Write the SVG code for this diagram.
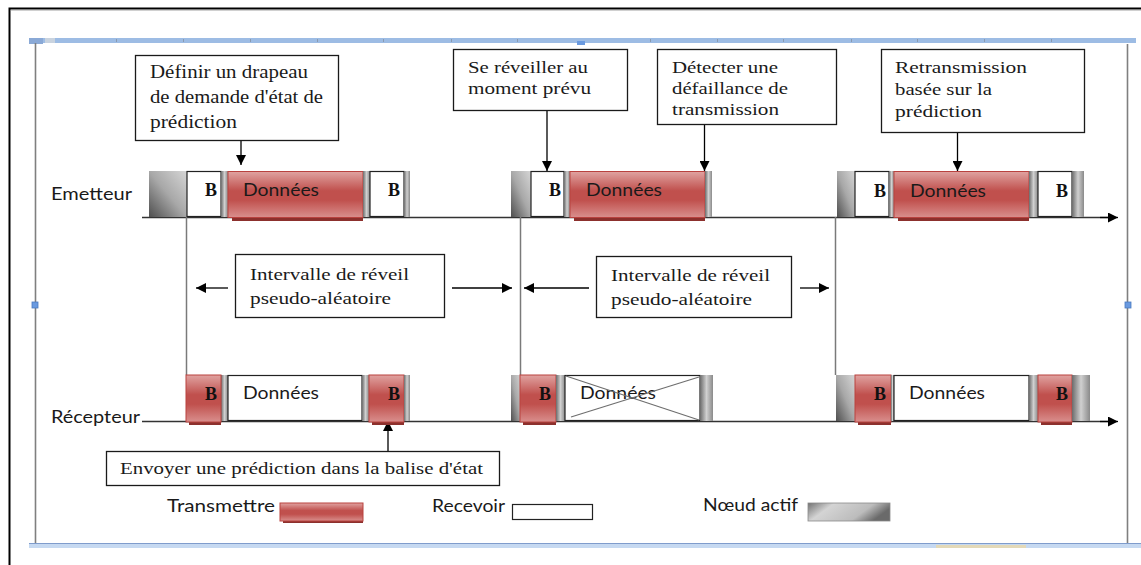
<svg xmlns="http://www.w3.org/2000/svg" width="1141" height="565" viewBox="0 0 1141 565">
  <defs>
    <style>
      .serif { font-family: "Liberation Serif", "Times New Roman", serif; font-size: 17px; fill: #1a1a1a; }
      .sans { font-family: Lato, "Liberation Sans", Arial, sans-serif; font-size: 17px; fill: #1a1a1a; }
      .bb { font-family: "Liberation Serif", "Times New Roman", serif; font-size: 18px; font-weight: bold; fill: #111; text-anchor: end; }
      .box { fill: #fff; stroke: #1a1a1a; stroke-width: 1.3; }
      .recv { fill: #fff; stroke: #222; stroke-width: 1.2; }
      .red { fill: url(#gRed); stroke: #b9423f; stroke-width: 1; }
      .shadow { fill: #8c302d; }
      .act { fill: url(#gAct); }
      .strip { fill: url(#gStrip); }
      .axis { stroke: #333; stroke-width: 1.5; fill: none; }
      .vline { stroke: #7a7a7a; stroke-width: 1.5; fill: none; }
      .arrow { stroke: #000; stroke-width: 1.3; fill: none; marker-end: url(#ah); }
      .cross { stroke: #6e6e6e; stroke-width: 1.2; }
      .frame { stroke: #7f7f7f; stroke-width: 1.6; fill: none; }
      .tick { fill: #8a9ab0; }
    </style>
    <linearGradient id="gRed" x1="0" y1="0" x2="0" y2="1">
      <stop offset="0" stop-color="#e0a3a1"/>
      <stop offset="0.42" stop-color="#c0504d"/>
      <stop offset="0.62" stop-color="#c0504d"/>
      <stop offset="1" stop-color="#d98f8d"/>
    </linearGradient>
    <linearGradient id="gAct" x1="1" y1="0" x2="0" y2="1">
      <stop offset="0" stop-color="#d6d6d6"/>
      <stop offset="0.5" stop-color="#a8a8a8"/>
      <stop offset="1" stop-color="#4f4f4f"/>
    </linearGradient>
    <linearGradient id="gStrip" x1="0" y1="0" x2="1" y2="0">
      <stop offset="0" stop-color="#6b6b6b"/>
      <stop offset="0.5" stop-color="#d0d0d0"/>
      <stop offset="1" stop-color="#8a8a8a"/>
    </linearGradient>
    <linearGradient id="gLegend" x1="0" y1="0" x2="1" y2="0.3">
      <stop offset="0" stop-color="#727272"/>
      <stop offset="0.3" stop-color="#d4d4d4"/>
      <stop offset="0.75" stop-color="#bcbcbc"/>
      <stop offset="1" stop-color="#6a6a6a"/>
    </linearGradient>
    <marker id="ah" viewBox="0 0 10 10" refX="10" refY="5" markerWidth="10" markerHeight="10" markerUnits="userSpaceOnUse" orient="auto">
      <path d="M0,0 L10,5 L0,10 z" fill="#000"/>
    </marker>
  </defs>

  <rect width="1141" height="565" fill="#fff"/>

  <!-- page frame and ruler bars -->
  <g id="frame">
    <path d="M9.5,565 V8.5 H1141" stroke="#000" stroke-width="2" fill="none"/>
    <path d="M11,10.5 H1141" stroke="#d0d0d0" stroke-width="1" fill="none"/>
    <rect x="30" y="38" width="1106" height="5" fill="#9dbce4"/>
    <rect x="29" y="38" width="14" height="6" fill="#8aa9d6"/>
    <rect x="45" y="38" width="10" height="5" fill="#c9d3df"/>
    <rect x="577" y="41" width="8" height="4" fill="#6a9ae0"/>
    <g class="tick">
      <rect x="116" y="39" width="1" height="3"/><rect x="183" y="39" width="1" height="3"/>
      <rect x="250" y="39" width="1" height="3"/><rect x="317" y="39" width="1" height="3"/>
      <rect x="383" y="39" width="1" height="3"/><rect x="451" y="39" width="1" height="3"/>
      <rect x="517" y="39" width="1" height="3"/><rect x="650" y="39" width="1" height="3"/>
      <rect x="717" y="39" width="1" height="3"/><rect x="783" y="39" width="1" height="3"/>
      <rect x="851" y="39" width="1" height="3"/><rect x="917" y="39" width="1" height="3"/>
      <rect x="984" y="39" width="1" height="3"/><rect x="1051" y="39" width="1" height="3"/>
    </g>
    <line class="frame" x1="35.5" y1="43" x2="35.5" y2="544"/>
    <line class="frame" x1="1127.5" y1="44" x2="1127.5" y2="544"/>
    <rect x="32" y="302" width="6" height="6" fill="#6a9ae0" stroke="#4a7ac0" stroke-width="0.8"/>
    <rect x="1125" y="302" width="6" height="6" fill="#6a9ae0" stroke="#4a7ac0" stroke-width="0.8"/>
    <rect x="29" y="543" width="1112" height="5" fill="#c6d9f1"/>
    <line x1="29" y1="543.5" x2="1141" y2="543.5" stroke="#7f9ccc" stroke-width="1"/>
    <rect x="936" y="545" width="90" height="3" fill="#e3d9b8"/>
  </g>

  <!-- time axes, lifelines and arrows -->
  <g id="connectors">
    <line class="axis" x1="142" y1="217.5" x2="1108" y2="217.5"/>
    <line class="arrow" x1="1100" y1="217.5" x2="1118" y2="217.5"/>
    <line class="axis" x1="142" y1="421.5" x2="1108" y2="421.5"/>
    <line class="arrow" x1="1100" y1="421.5" x2="1118" y2="421.5"/>

    <line class="vline" x1="186.5" y1="217" x2="186.5" y2="375"/>
    <line class="vline" x1="520.5" y1="217" x2="520.5" y2="375"/>
    <line class="vline" x1="835.5" y1="217" x2="835.5" y2="375"/>

    <line class="arrow" x1="228" y1="288" x2="196" y2="288"/>
    <line class="arrow" x1="452" y1="288" x2="512" y2="288"/>
    <line class="arrow" x1="589" y1="288" x2="524" y2="288"/>
    <line class="arrow" x1="800" y1="288" x2="829" y2="288"/>

    <line class="arrow" x1="241" y1="141" x2="241" y2="165"/>
    <line class="arrow" x1="547" y1="111" x2="547" y2="171"/>
    <line class="arrow" x1="704.5" y1="125" x2="704.5" y2="171"/>
    <line class="arrow" x1="957.5" y1="133" x2="957.5" y2="171"/>
    <line class="arrow" x1="388" y1="452" x2="388" y2="421"/>
  </g>

  <!-- row labels -->
  <g id="label-emetteur">
    <text class="sans" x="51" y="200" textLength="81" lengthAdjust="spacingAndGlyphs">Emetteur</text>
  </g>
  <g id="label-recepteur">
    <text class="sans" x="51" y="423" textLength="89" lengthAdjust="spacingAndGlyphs">Récepteur</text>
  </g>

  <!-- callouts -->
  <g id="callout-drapeau">
    <rect class="box" x="135.5" y="55.5" width="203" height="85"/>
    <text class="serif" style="font-size:18px" x="150" y="78" textLength="158" lengthAdjust="spacingAndGlyphs">Définir un drapeau</text>
    <text class="serif" style="font-size:18px" x="150" y="103" textLength="173" lengthAdjust="spacingAndGlyphs">de demande d'état de</text>
    <text class="serif" style="font-size:18px" x="150" y="128" textLength="87" lengthAdjust="spacingAndGlyphs">prédiction</text>
  </g>
  <g id="callout-reveil">
    <rect class="box" x="453.5" y="49.5" width="174" height="61"/>
    <text class="serif" x="468" y="73" textLength="120" lengthAdjust="spacingAndGlyphs">Se réveiller au</text>
    <text class="serif" x="468" y="94" textLength="123" lengthAdjust="spacingAndGlyphs">moment prévu</text>
  </g>
  <g id="callout-defaillance">
    <rect class="box" x="657.5" y="49.5" width="179" height="75"/>
    <text class="serif" x="672" y="73" textLength="106" lengthAdjust="spacingAndGlyphs">Détecter une</text>
    <text class="serif" x="672" y="94" textLength="116" lengthAdjust="spacingAndGlyphs">défaillance de</text>
    <text class="serif" x="672" y="115" textLength="107" lengthAdjust="spacingAndGlyphs">transmission</text>
  </g>
  <g id="callout-retransmission">
    <rect class="box" x="881.5" y="49.5" width="203" height="83"/>
    <text class="serif" x="895" y="73" textLength="132" lengthAdjust="spacingAndGlyphs">Retransmission</text>
    <text class="serif" x="895" y="95" textLength="97" lengthAdjust="spacingAndGlyphs">basée sur la</text>
    <text class="serif" x="895" y="117" textLength="87" lengthAdjust="spacingAndGlyphs">prédiction</text>
  </g>
  <g id="intervalle-1">
    <rect class="box" x="235.5" y="254.5" width="209" height="63"/>
    <text class="serif" x="250" y="280" textLength="159" lengthAdjust="spacingAndGlyphs">Intervalle de réveil</text>
    <text class="serif" x="250" y="304" textLength="141" lengthAdjust="spacingAndGlyphs">pseudo-aléatoire</text>
  </g>
  <g id="intervalle-2">
    <rect class="box" x="596.5" y="256.5" width="195" height="61"/>
    <text class="serif" x="611" y="281" textLength="159" lengthAdjust="spacingAndGlyphs">Intervalle de réveil</text>
    <text class="serif" x="611" y="305" textLength="141" lengthAdjust="spacingAndGlyphs">pseudo-aléatoire</text>
  </g>
  <g id="callout-balise">
    <rect class="box" x="106.5" y="451.5" width="393" height="34"/>
    <text class="serif" x="120" y="474" textLength="363" lengthAdjust="spacingAndGlyphs">Envoyer une prédiction dans la balise d'état</text>
  </g>

  <!-- emitter frames -->
  <g id="tx-1">
    <rect class="act" x="149" y="171" width="38" height="46"/>
    <rect class="recv" x="187" y="171.5" width="34" height="45"/>
    <rect class="strip" x="221" y="171" width="7" height="46"/>
    <rect class="shadow" x="232" y="216" width="131" height="5"/>
    <rect class="red" x="228" y="171.5" width="135" height="46"/>
    <rect class="strip" x="363" y="171" width="7" height="46"/>
    <rect class="recv" x="370" y="171.5" width="34" height="45"/>
    <rect class="strip" x="404" y="171" width="6" height="46"/>
    <text class="bb" x="217" y="196">B</text>
    <text class="sans" x="243" y="196" textLength="76" lengthAdjust="spacingAndGlyphs">Données</text>
    <text class="bb" x="400" y="196">B</text>
  </g>
  <g id="tx-2">
    <rect class="act" x="511" y="171" width="20" height="46"/>
    <rect class="recv" x="531" y="171.5" width="33" height="45"/>
    <rect class="strip" x="564" y="171" width="6" height="46"/>
    <rect class="shadow" x="574" y="216" width="131" height="5"/>
    <rect class="red" x="570" y="171.5" width="135" height="46"/>
    <rect class="strip" x="705" y="171" width="7" height="46"/>
    <text class="bb" x="561" y="196">B</text>
    <text class="sans" x="586" y="196" textLength="76" lengthAdjust="spacingAndGlyphs">Données</text>
  </g>
  <g id="tx-3">
    <rect class="act" x="837" y="171" width="18" height="46"/>
    <rect class="recv" x="855" y="171.5" width="34" height="45"/>
    <rect class="strip" x="889" y="171" width="5" height="46"/>
    <rect class="shadow" x="898" y="216" width="131" height="5"/>
    <rect class="red" x="894" y="171.5" width="135" height="46"/>
    <rect class="strip" x="1029" y="171" width="9" height="46"/>
    <rect class="recv" x="1038" y="171.5" width="34" height="45"/>
    <rect class="strip" x="1072" y="171" width="12" height="46"/>
    <text class="bb" x="886" y="197">B</text>
    <text class="sans" x="910" y="197" textLength="76" lengthAdjust="spacingAndGlyphs">Données</text>
    <text class="bb" x="1068" y="197">B</text>
  </g>

  <!-- receiver frames -->
  <g id="rx-1">
    <rect class="strip" x="221" y="375" width="7" height="46"/>
    <rect class="shadow" x="189" y="420" width="32" height="5"/>
    <rect class="red" x="186" y="375" width="35" height="47"/>
    <rect class="recv" x="228" y="375.5" width="134" height="45"/>
    <rect class="strip" x="362" y="375" width="7" height="46"/>
    <rect class="shadow" x="372" y="420" width="32" height="5"/>
    <rect class="red" x="369" y="375" width="35" height="47"/>
    <rect class="strip" x="404" y="375" width="6" height="46"/>
    <text class="bb" x="217" y="400">B</text>
    <text class="sans" x="243" y="399" textLength="76" lengthAdjust="spacingAndGlyphs">Données</text>
    <text class="bb" x="400" y="400">B</text>
  </g>
  <g id="rx-2">
    <rect class="act" x="511" y="375" width="10" height="46"/>
    <rect class="shadow" x="523" y="420" width="33" height="5"/>
    <rect class="red" x="520" y="375" width="36" height="47"/>
    <rect class="strip" x="556" y="375" width="9" height="46"/>
    <rect class="recv" x="565" y="375.5" width="135" height="45"/>
    <rect class="strip" x="700" y="375" width="13" height="46"/>
    <text class="bb" x="551" y="400">B</text>
    <text class="sans" x="580" y="399" textLength="76" lengthAdjust="spacingAndGlyphs">Données</text>
    <line class="cross" x1="566" y1="376" x2="699" y2="420"/>
    <line class="cross" x1="571" y1="417" x2="699" y2="377"/>
  </g>
  <g id="rx-3">
    <rect class="act" x="836" y="375" width="19" height="46"/>
    <rect class="shadow" x="858" y="420" width="33" height="5"/>
    <rect class="red" x="855" y="375" width="36" height="47"/>
    <rect class="strip" x="891" y="375" width="3" height="46"/>
    <rect class="recv" x="894" y="375.5" width="135" height="45"/>
    <rect class="strip" x="1029" y="375" width="9" height="46"/>
    <rect class="shadow" x="1041" y="420" width="31" height="5"/>
    <rect class="red" x="1038" y="375" width="34" height="47"/>
    <rect class="strip" x="1072" y="375" width="18" height="46"/>
    <text class="bb" x="886" y="400">B</text>
    <text class="sans" x="909" y="399" textLength="76" lengthAdjust="spacingAndGlyphs">Données</text>
    <text class="bb" x="1068" y="400">B</text>
  </g>

  <!-- legend -->
  <g id="legend">
    <text class="sans" x="167" y="512" textLength="108" lengthAdjust="spacingAndGlyphs">Transmettre</text>
    <rect class="shadow" x="283" y="518" width="80" height="5"/>
    <rect class="red" x="280" y="503" width="83" height="18"/>
    <text class="sans" x="432" y="512" textLength="73" lengthAdjust="spacingAndGlyphs">Recevoir</text>
    <rect class="recv" x="512.5" y="504.5" width="80" height="15"/>
    <text class="sans" x="703" y="511" textLength="95" lengthAdjust="spacingAndGlyphs">Nœud actif</text>
    <rect x="808" y="503" width="82" height="18" fill="url(#gLegend)" stroke="#8a8a8a" stroke-width="0.8"/>
  </g>
</svg>
